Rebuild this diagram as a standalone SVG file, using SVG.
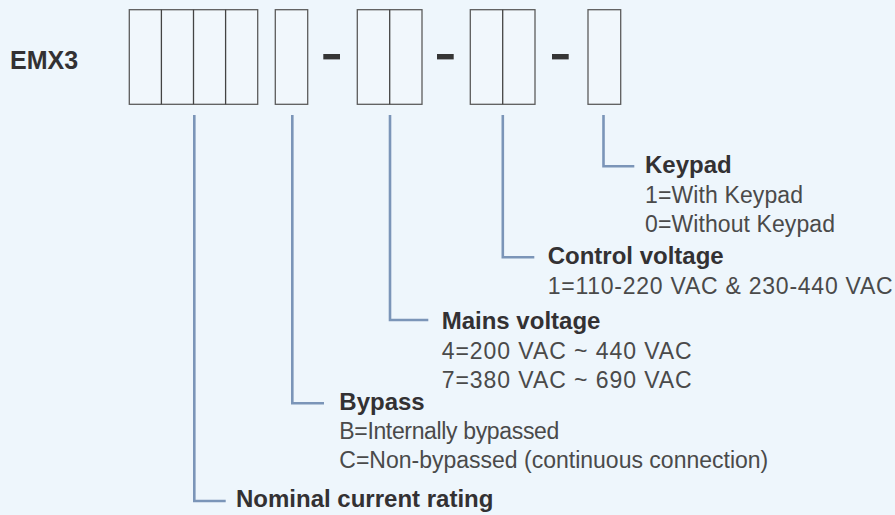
<svg xmlns="http://www.w3.org/2000/svg" width="895" height="515" viewBox="0 0 895 515">
  <style>
    .bg { fill: #eef6fc; }
    .box { fill: #f1f7fc; stroke: #5c5c5c; stroke-width: 1.3; }
    .div { stroke: #444; stroke-width: 1.3; }
    .dash { fill: #353535; }
    .conn { fill: none; stroke: #7b95b8; stroke-width: 2.6; stroke-linejoin: miter; stroke-linecap: butt; }
    .title { font-family: "Liberation Sans", Arial, sans-serif; font-weight: bold; font-size: 24px; fill: #333133; }
    .item { font-family: "Liberation Sans", Arial, sans-serif; font-size: 23px; fill: #4a4a4a; }
    .model { font-family: "Liberation Sans", Arial, sans-serif; font-weight: bold; font-size: 25px; fill: #333133; }
  </style>
  <rect class="bg" x="0" y="0" width="895" height="515"/>

  <g id="model">
    <text class="model" x="10" y="68.5">EMX3</text>
  </g>

  <g id="field-current">
    <rect class="box" x="129.3" y="9.7" width="128.4" height="94.6"/>
    <line class="div" x1="161.4" y1="9.7" x2="161.4" y2="104.3"/>
    <line class="div" x1="193.5" y1="9.7" x2="193.5" y2="104.3"/>
    <line class="div" x1="225.6" y1="9.7" x2="225.6" y2="104.3"/>
  </g>
  <g id="field-bypass">
    <rect class="box" x="275.3" y="9.7" width="32.4" height="94.6"/>
  </g>
  <g id="dash-1"><rect class="dash" x="323.3" y="54" width="16.7" height="5.4"/></g>
  <g id="field-mains">
    <rect class="box" x="357.3" y="9.7" width="64.7" height="94.6"/>
    <line class="div" x1="389.7" y1="9.7" x2="389.7" y2="104.3"/>
  </g>
  <g id="dash-2"><rect class="dash" x="437" y="54" width="16.7" height="5.4"/></g>
  <g id="field-control">
    <rect class="box" x="470.3" y="9.7" width="64.7" height="94.6"/>
    <line class="div" x1="502.7" y1="9.7" x2="502.7" y2="104.3"/>
  </g>
  <g id="dash-3"><rect class="dash" x="552" y="54" width="16.7" height="5.4"/></g>
  <g id="field-keypad">
    <rect class="box" x="588" y="9.7" width="32.7" height="94.6"/>
  </g>

  <g id="connectors">
    <path class="conn" d="M603.5 115 V166.3 H634.3"/>
    <path class="conn" d="M502.8 115 V257.3 H534.3"/>
    <path class="conn" d="M390 115 V320 H428.3"/>
    <path class="conn" d="M292.3 115 V403.3 H324"/>
    <path class="conn" d="M194.3 115 V501 H225.7"/>
  </g>

  <g id="label-keypad">
    <text class="title" x="645" y="173.3">Keypad</text>
    <text class="item" x="645" y="203" textLength="158" lengthAdjust="spacing">1=With Keypad</text>
    <text class="item" x="645" y="231.7" textLength="190" lengthAdjust="spacing">0=Without Keypad</text>
  </g>
  <g id="label-control">
    <text class="title" x="547.7" y="264">Control voltage</text>
    <text class="item" x="547.7" y="294" textLength="345" lengthAdjust="spacing">1=110-220 VAC &amp; 230-440 VAC</text>
  </g>
  <g id="label-mains">
    <text class="title" x="441.7" y="328.5">Mains voltage</text>
    <text class="item" x="441.7" y="359.3" textLength="250" lengthAdjust="spacing">4=200 VAC ~ 440 VAC</text>
    <text class="item" x="441.7" y="387.5" textLength="250" lengthAdjust="spacing">7=380 VAC ~ 690 VAC</text>
  </g>
  <g id="label-bypass">
    <text class="title" x="339.3" y="409.5">Bypass</text>
    <text class="item" x="339.3" y="439.3" textLength="220" lengthAdjust="spacing">B=Internally bypassed</text>
    <text class="item" x="339.3" y="467.7">C=Non-bypassed (continuous connection)</text>
  </g>
  <g id="label-current">
    <text class="title" x="236" y="506.7">Nominal current rating</text>
  </g>
</svg>
